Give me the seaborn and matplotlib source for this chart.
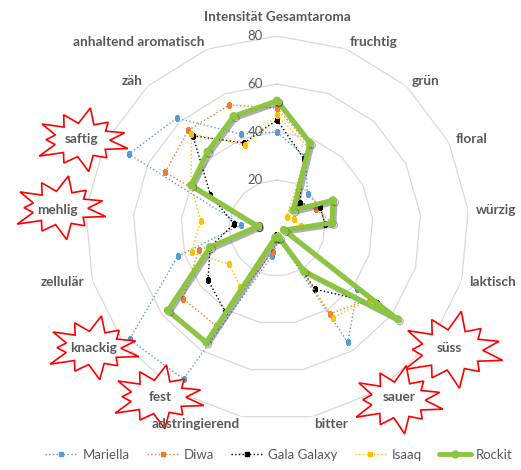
import numpy as np
import pandas as pd
import matplotlib
matplotlib.use('Agg')
import matplotlib.pyplot as plt
import matplotlib.patheffects as pe
from matplotlib.patches import Polygon
from matplotlib.lines import Line2D
import seaborn as sns

sns.set_theme(style='white')
plt.rcParams['font.family'] = ['Lato', 'DejaVu Sans']

# Data
attributes = ['Intensität Gesamtaroma', 'fruchtig', 'grün', 'floral', 'würzig',
              'laktisch', 'süss', 'sauer', 'bitter', 'adstringierend', 'fest',
              'knackig', 'zellulär', 'mehlig', 'saftig', 'zäh',
              'anhaltend aromatisch']
mariella = [40, 32, 19, 20, 20, 5, 42, 56, 5, 12, 74, 77, 43, 15, 69, 62, 42]
diwa     = [50, 37, 12, 18, 23, 5, 49, 42, 3, 10, 48, 49, 34, 8, 52, 55, 55]
gala     = [45, 31, 14, 20, 20, 3, 52, 30, 3, 3, 41, 36, 29, 18, 31, 52, 38]
isaaq    = [47, 36, 6, 8, 10, 5, 49, 44, 3, 5, 29, 25, 37, 32, 40, 53, 37]
rockit   = [53, 38, 10, 26, 23, 3, 63, 21, 4, 4, 56, 57, 29, 8, 40, 43, 50]
r_ticks = [0, 20, 40, 60, 80]

series = [('Mariella', mariella, '#5B9BD5'),
          ('Diwa', diwa, '#ED7D31'),
          ('Gala Galaxy', gala, '#000000'),
          ('Isaaq', isaaq, '#FFC000'),
          ('Rockit', rockit, '#8CC63F')]

TXT = '#595959'
W, H = 521, 470
n = len(attributes)
theta = np.linspace(0, 2 * np.pi, n, endpoint=False)
theta_c = np.append(theta, 2 * np.pi)

fig = plt.figure(figsize=(W / 100, H / 100), dpi=100)
cx, cy, rad = 277, 228, 192
ax = fig.add_axes([(cx - rad) / W, (H - cy - rad) / H, 2 * rad / W, 2 * rad / H],
                  projection='polar')
ax.set_theta_zero_location('N')
ax.set_theta_direction(-1)
ax.set_ylim(0, 80)
ax.grid(False)
ax.spines['polar'].set_visible(False)
ax.set_xticks([])
ax.set_yticks([])
ax.patch.set_alpha(0)

# polygon gridlines + radial labels
for r in r_ticks:
    if r > 0:
        ax.plot(theta_c, [r] * (n + 1), color='#D9D9D9', lw=0.9, zorder=1)
    ax.annotate(str(r), (0, r), xytext=(-14, 0), textcoords='offset pixels',
                ha='right', va='center', fontsize=9.5, color=TXT, zorder=2)

# series
handles = []
for name, vals, col in series:
    df = pd.DataFrame({'theta': theta_c, 'value': vals + vals[:1]})
    if name == 'Rockit':
        style = dict(color=col, lw=3.5, ls='-', marker='o', markersize=5,
                     markeredgecolor=col)
        sns.lineplot(data=df, x='theta', y='value', sort=False, estimator=None,
                     ax=ax, legend=False, zorder=4, **style)
        ax.lines[-1].set_path_effects([pe.SimpleLineShadow(offset=(1.5, -1.5),
                                                           alpha=0.35),
                                       pe.Normal()])
    else:
        style = dict(color=col, lw=1.0, ls=':', marker='s', markersize=2.5,
                     markeredgecolor=col)
        sns.lineplot(data=df, x='theta', y='value', sort=False, estimator=None,
                     ax=ax, legend=False, zorder=3, **style)
    handles.append(Line2D([], [], label=name, **style))

ax.set_xlabel('')
ax.set_ylabel('')
ax.set_ylim(0, 80)

# starbursts behind highlighted labels (pixel centres, top-left origin)
stars = {'saftig': (82, 140, 48, 29), 'mehlig': (60, 208, 48, 29),
         'knackig': (93, 348, 48, 29), 'fest': (158, 397, 48, 29),
         'süss': (452, 350, 53, 35), 'sauer': (398, 400, 47, 31)}
spike = [1.0, 0.8, 1.1, 0.88, 1.05, 0.75, 1.0, 0.95, 1.12, 0.82, 0.92]
for name, (sx, sy, rx, ry) in stars.items():
    pts = []
    m = len(spike)
    for i in range(m):
        a0 = 2 * np.pi * i / m + 0.3
        a1 = 2 * np.pi * (i + 0.5) / m + 0.3
        pts.append((sx + rx * spike[i] * np.cos(a0), sy + ry * spike[i] * np.sin(a0)))
        pts.append((sx + rx * 0.58 * np.cos(a1), sy + ry * 0.58 * np.sin(a1)))
    pts = [(x / W, 1 - y / H) for x, y in pts]
    ax.add_patch(Polygon(pts, closed=True, transform=fig.transFigure,
                         facecolor='white', edgecolor='#FF0000', lw=1.2,
                         clip_on=False, zorder=5))

# category labels
for t, lab in zip(theta, attributes):
    s, c = np.sin(t), np.cos(t)
    if abs(s) < 0.05:
        ha, dx, dy = 'center', 0, 19
    else:
        ha = 'left' if s > 0 else 'right'
        dx, dy = 8 * s, 7 * c
    ax.annotate(lab, (t, 80), xytext=(dx, dy), textcoords='offset pixels',
                ha=ha, va='center', fontsize=9.8, fontweight='bold', color=TXT,
                annotation_clip=False, zorder=6)

fig.legend(handles=handles, loc='center', bbox_to_anchor=(279 / W, 15 / H),
           ncol=5, frameon=False, fontsize=9.5, handlelength=2.4,
           numpoints=1, handletextpad=0.4, columnspacing=1.3, labelcolor=TXT)

fig.savefig('out.png', dpi=100)
